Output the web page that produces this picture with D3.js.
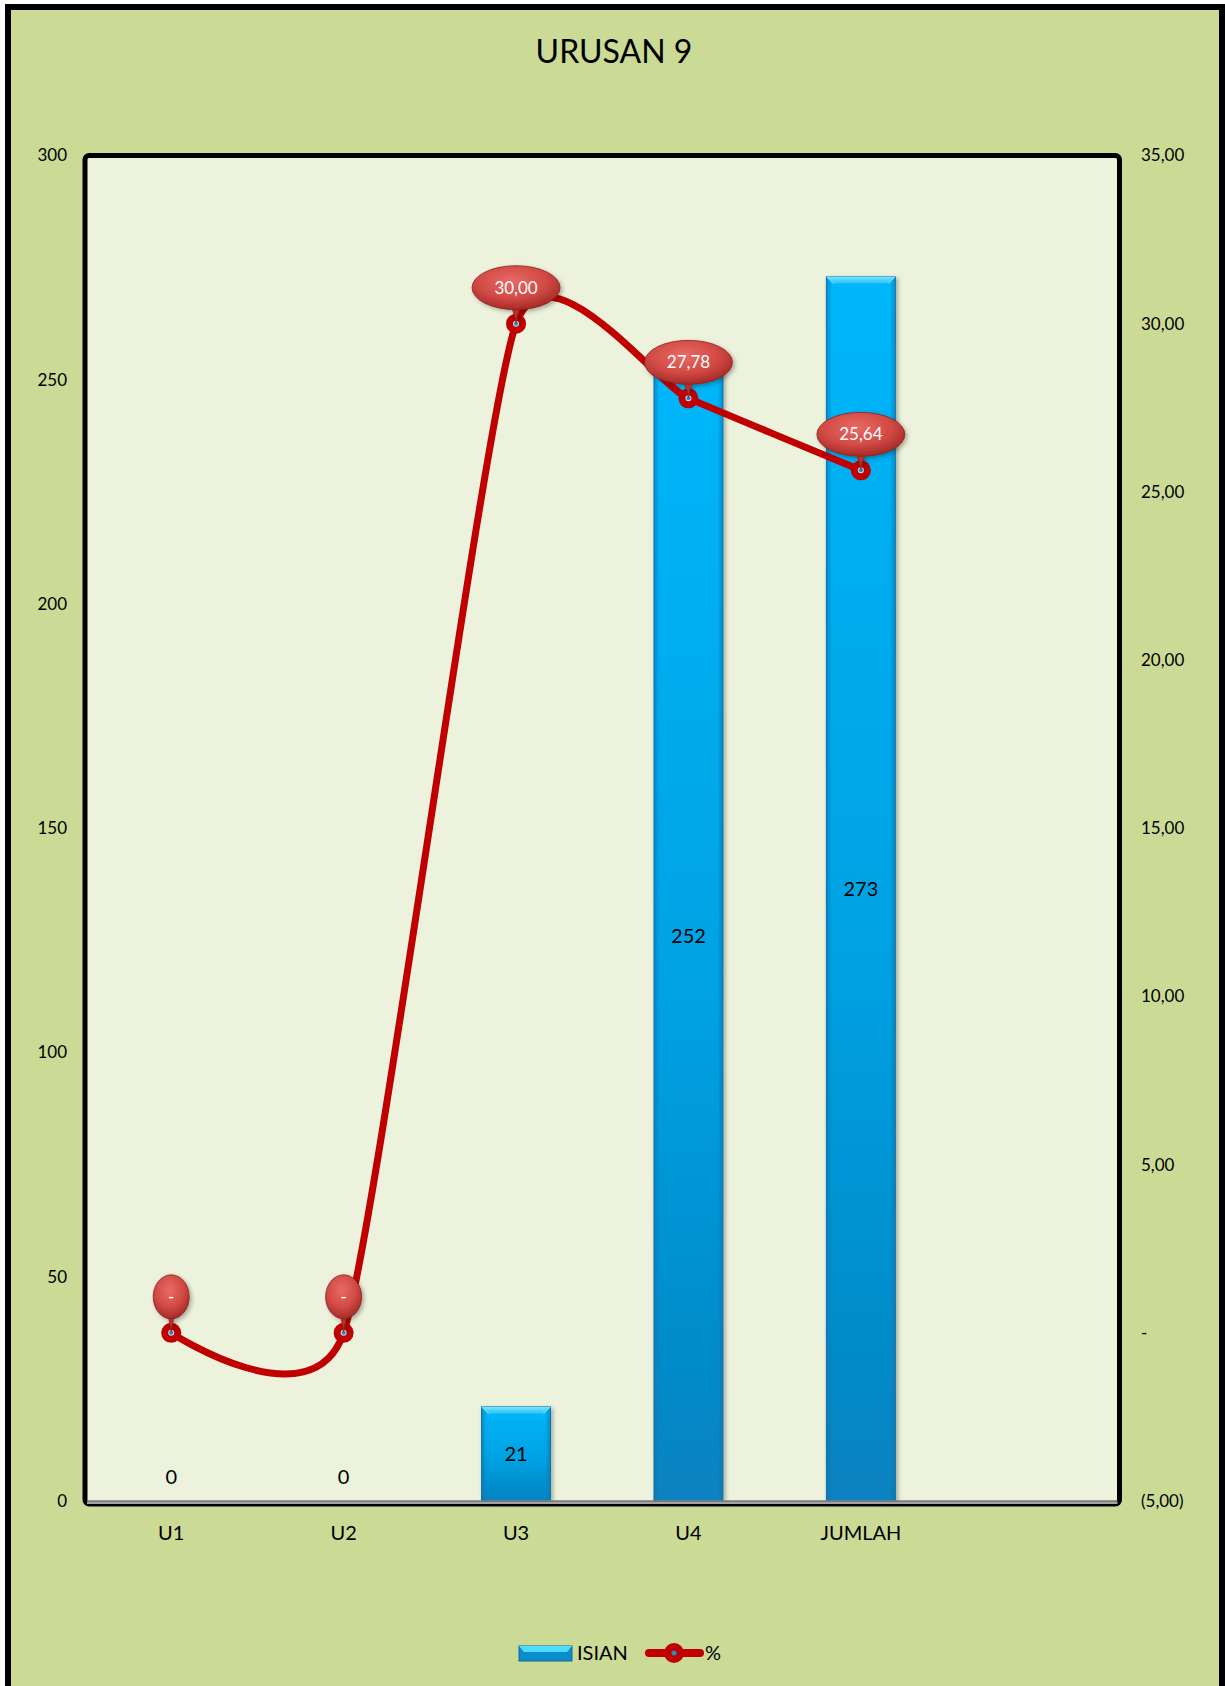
<!DOCTYPE html>
<html>
<head>
<meta charset="utf-8">
<script src="https://cdn.jsdelivr.net/npm/d3@7"></script>
<style>
  html, body { margin: 0; padding: 0; background: #ffffff; }
  svg { display: block; }
  text { font-family: Lato, "Open Sans", sans-serif; }
</style>
</head>
<body>
<script>
// ---- data ----
const title = "URUSAN 9";
const categories = ["U1", "U2", "U3", "U4", "JUMLAH"];
const isianValues = [0, 0, 21, 252, 273];
const pctValues = [0, 0, 30.00, 27.78, 25.64];
const leftTicks = [0, 50, 100, 150, 200, 250, 300];
const rightTicks = [-5, 0, 5, 10, 15, 20, 25, 30, 35];
const legendLabels = ["ISIAN", "%"];

// ---- layout ----
const W = 1225, H = 1686;
const plot = { left: 85, right: 1119.5, top: 155.5, bottom: 1501 };

const svg = d3.select("body").append("svg").attr("width", W).attr("height", H);
const defs = svg.append("defs");

// gradients
const barGrad = defs.append("linearGradient").attr("id", "barGrad").attr("x1", 0).attr("y1", 0).attr("x2", 0).attr("y2", 1);
barGrad.append("stop").attr("offset", "0%").attr("stop-color", "#02b6fa");
barGrad.append("stop").attr("offset", "55%").attr("stop-color", "#03a2e3");
barGrad.append("stop").attr("offset", "100%").attr("stop-color", "#0782c0");
const barSide = defs.append("linearGradient").attr("id", "barSide").attr("x1", 0).attr("y1", 0).attr("x2", 1).attr("y2", 0);
barSide.append("stop").attr("offset", "0%").attr("stop-color", "#0a6fa8").attr("stop-opacity", 0.55);
barSide.append("stop").attr("offset", "8%").attr("stop-color", "#0a6fa8").attr("stop-opacity", 0);
barSide.append("stop").attr("offset", "92%").attr("stop-color", "#0a6fa8").attr("stop-opacity", 0);
barSide.append("stop").attr("offset", "100%").attr("stop-color", "#0a6fa8").attr("stop-opacity", 0.55);
const bevelGrad = defs.append("linearGradient").attr("id", "bevelGrad").attr("x1", 0).attr("y1", 0).attr("x2", 0).attr("y2", 1);
bevelGrad.append("stop").attr("offset", "0%").attr("stop-color", "#7fe3ff");
bevelGrad.append("stop").attr("offset", "100%").attr("stop-color", "#22c2f7");

const balGrad = defs.append("radialGradient").attr("id", "balGrad").attr("cx", "45%").attr("cy", "35%").attr("r", "65%");
balGrad.append("stop").attr("offset", "0%").attr("stop-color", "#e86a66");
balGrad.append("stop").attr("offset", "60%").attr("stop-color", "#d24a45");
balGrad.append("stop").attr("offset", "100%").attr("stop-color", "#a52a27");

const shadow = defs.append("filter").attr("id", "shadow").attr("x", "-30%").attr("y", "-30%").attr("width", "160%").attr("height", "160%");
shadow.append("feDropShadow").attr("dx", 2).attr("dy", 2).attr("stdDeviation", 2).attr("flood-color", "#000").attr("flood-opacity", 0.3);

// background + outer border
svg.append("rect").attr("x", 8).attr("y", 7).attr("width", 1214).attr("height", 1720)
  .attr("fill", "#cbdb96").attr("stroke", "#000").attr("stroke-width", 6);

// title
svg.append("text").attr("x", 614).attr("y", 63).attr("text-anchor", "middle")
  .attr("font-size", 32).attr("fill", "#000").text(title);

// plot area
svg.append("rect").attr("x", plot.left).attr("y", plot.top)
  .attr("width", plot.right - plot.left).attr("height", plot.bottom + 3 - plot.top)
  .attr("rx", 4).attr("fill", "#ecf2dc").attr("stroke", "#000").attr("stroke-width", 5);

// scales
const x = d3.scaleBand().domain(categories.concat([""]))
  .range([plot.left, plot.right]).paddingInner(0.6).paddingOuter(0.3);
const cx = d => x(d) + x.bandwidth() / 2;
const yL = d3.scaleLinear().domain([0, 300]).range([plot.bottom, plot.top]);
const yR = d3.scaleLinear().domain([-5, 35]).range([plot.bottom, plot.top]);

const fmt2 = d3.formatLocale({ decimal: ",", thousands: ".", grouping: [3], currency: ["", ""] }).format(".2f");
const rightFmt = v => v === 0 ? "-" : (v < 0 ? "(" + fmt2(-v) + ")" : fmt2(v));
const pctFmt = v => v === 0 ? "-" : fmt2(v);

// axes (labels only, no tick marks)
const leftAxis = d3.axisLeft(yL).tickValues(leftTicks).tickSize(0).tickPadding(0);
const gL = svg.append("g").attr("transform", `translate(67,0)`).call(leftAxis);
gL.select(".domain").remove();
gL.selectAll("text").attr("font-size", 17).attr("fill", "#000").attr("font-family", "Lato");

const rightAxis = d3.axisRight(yR).tickValues(rightTicks).tickFormat(rightFmt).tickSize(0).tickPadding(0);
const gR = svg.append("g").attr("transform", `translate(1141,0)`).call(rightAxis);
gR.select(".domain").remove();
gR.selectAll("text").attr("font-size", 17).attr("fill", "#000").attr("font-family", "Lato");

const bottomAxis = d3.axisBottom(x).tickSize(0).tickPadding(0).tickFormat(d => d);
const gB = svg.append("g").attr("transform", `translate(0,1526)`).call(bottomAxis);
gB.select(".domain").remove();
gB.selectAll("text").attr("font-size", 20).attr("fill", "#000").attr("font-family", "Lato");

// bars
const data = categories.map((c, i) => ({ c, v: isianValues[i], p: pctValues[i] }));
const bars = svg.append("g");
data.filter(d => d.v > 0).forEach(d => {
  const bx = x(d.c), bw = x.bandwidth(), by = yL(d.v), bh = yL(0) - yL(d.v);
  const g = bars.append("g").attr("filter", "url(#shadow)");
  g.append("rect").attr("x", bx).attr("y", by).attr("width", bw).attr("height", bh)
    .attr("fill", "url(#barGrad)").attr("stroke", "#1577ad").attr("stroke-width", 1);
  g.append("rect").attr("x", bx).attr("y", by).attr("width", bw).attr("height", bh)
    .attr("fill", "url(#barSide)");
  const bv = 7;
  g.append("path").attr("d", `M${bx},${by} L${bx + bw},${by} L${bx + bw - bv},${by + bv} L${bx + bv},${by + bv} Z`)
    .attr("fill", "url(#bevelGrad)");
  g.append("path").attr("d", `M${bx},${by} L${bx + bv},${by + bv} M${bx + bw},${by} L${bx + bw - bv},${by + bv}`)
    .attr("stroke", "#b8f0ff").attr("stroke-width", 1).attr("opacity", 0.7);
});

// zero line
svg.append("line").attr("x1", plot.left + 2).attr("x2", plot.right - 2)
  .attr("y1", yL(0)).attr("y2", yL(0)).attr("stroke", "#7f7f7f").attr("stroke-width", 1.5);
svg.append("line").attr("x1", plot.left + 2).attr("x2", plot.right - 2)
  .attr("y1", yL(0) + 2).attr("y2", yL(0) + 2).attr("stroke", "#d8d8d8").attr("stroke-width", 1.5);

// bar labels
svg.append("g").selectAll("text").data(data).join("text")
  .attr("x", d => cx(d.c))
  .attr("y", d => Math.min((yL(0) + yL(d.v)) / 2, yL(0) - 24))
  .attr("dy", "0.35em").attr("text-anchor", "middle")
  .attr("font-size", 20).attr("fill", "#000")
  .text(d => d.v);

// line
const line = d3.line().x(d => cx(d.c)).y(d => yR(d.p)).curve(d3.curveCardinal.tension(0.45));
svg.append("path").datum(data).attr("d", line)
  .attr("fill", "none").attr("stroke", "#c00000").attr("stroke-width", 7)
  .attr("stroke-linecap", "round").attr("stroke-linejoin", "round");

// markers
const mk = svg.append("g");
data.forEach(d => {
  mk.append("circle").attr("cx", cx(d.c)).attr("cy", yR(d.p)).attr("r", 10).attr("fill", "#c00000");
  mk.append("circle").attr("cx", cx(d.c)).attr("cy", yR(d.p)).attr("r", 3).attr("fill", "#cfe3ea");
  mk.append("circle").attr("cx", cx(d.c)).attr("cy", yR(d.p)).attr("r", 2).attr("fill", "#1e8fd0");
});

// balloon labels
const bl = svg.append("g");
data.forEach(d => {
  const px = cx(d.c), py = yR(d.p);
  const label = pctFmt(d.p);
  const narrow = label === "-";
  const rx = narrow ? 18 : 44, ry = narrow ? 22 : 22;
  const ecy = py - 36;
  const g = bl.append("g").attr("filter", "url(#shadow)");
  const tw = narrow ? 5 : 9;
  const tailTop = ecy + ry * 0.55;
  g.append("path")
    .attr("d", `M${px - tw},${tailTop} Q${px - 2},${py - 14} ${px},${py - 1} Q${px + 2},${py - 14} ${px + tw},${tailTop} Z`)
    .attr("fill", "#b8302c").attr("stroke", "#8e1f1c").attr("stroke-width", 0.8);
  g.append("ellipse").attr("cx", px).attr("cy", ecy).attr("rx", rx).attr("ry", ry)
    .attr("fill", "url(#balGrad)").attr("stroke", "#8e1f1c").attr("stroke-width", 0.8);
  bl.append("text").attr("x", px).attr("y", ecy).attr("dy", "0.35em").attr("text-anchor", "middle")
    .attr("font-size", 17).attr("fill", "#fff").text(label);
});

// legend
const lg = svg.append("g");
const lbx = 519, lby = 1646, lbw = 53, lbh = 15;
lg.append("rect").attr("x", lbx).attr("y", lby).attr("width", lbw).attr("height", lbh)
  .attr("fill", "#0b8ccc").attr("stroke", "#15679a").attr("stroke-width", 1);
lg.append("path").attr("d", `M${lbx},${lby} L${lbx + lbw},${lby} L${lbx + lbw - 5},${lby + 6} L${lbx + 5},${lby + 6} Z`)
  .attr("fill", "#4fdcff");
lg.append("text").attr("x", 577).attr("y", 1653).attr("dy", "0.35em")
  .attr("font-size", 20).attr("fill", "#000").text(legendLabels[0]);
lg.append("line").attr("x1", 649).attr("x2", 700).attr("y1", 1653).attr("y2", 1653)
  .attr("stroke", "#c00000").attr("stroke-width", 8).attr("stroke-linecap", "round");
lg.append("circle").attr("cx", 674).attr("cy", 1653).attr("r", 10).attr("fill", "#c00000");
lg.append("circle").attr("cx", 674).attr("cy", 1653).attr("r", 2.5).attr("fill", "#1e8fd0");
lg.append("text").attr("x", 705).attr("y", 1653).attr("dy", "0.35em")
  .attr("font-size", 20).attr("fill", "#000").text(legendLabels[1]);
</script>
</body>
</html>
